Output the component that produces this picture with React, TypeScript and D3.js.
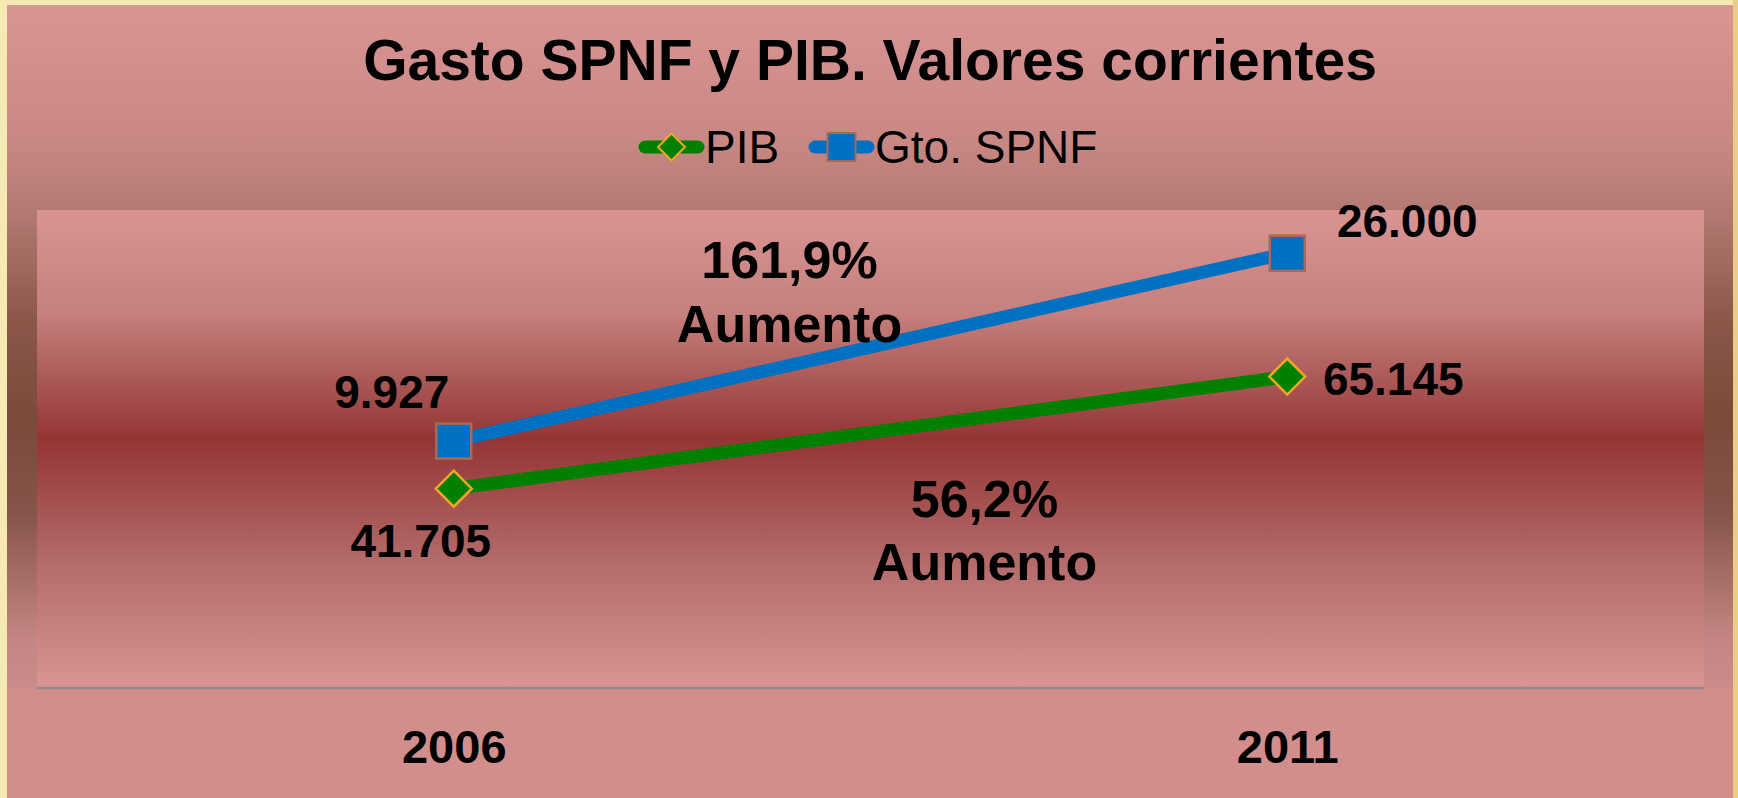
import * as d3 from 'd3';
import React, { useEffect, useRef } from 'react';

// chart data
const years: string[] = ['2006', '2011'];
const pibValues: number[] = [41705, 65145];
const gastoValues: number[] = [9927, 26000];
const seriesNames: string[] = ['PIB', 'Gto. SPNF'];
const titleText = 'Gasto SPNF y PIB. Valores corrientes';
const increaseWord = 'Aumento';

const WIDTH = 1738;
const HEIGHT = 798;

const esLocale = d3.formatLocale({
    decimal: ',',
    thousands: '.',
    grouping: [ 3 ],
    currency: [ '', '' ]
});
const fmtValue = esLocale.format(',');
const fmtPct = esLocale.format(',.1f');

/**
 * Line chart with two series on separate (hidden) axes.
 */
export default function App() {
    const ref = useRef<SVGSVGElement>(null);

    useEffect(() => {
        document.body.style.margin = '0';
        document.body.style.background = '#F4E6A8';
        drawChart(ref.current as SVGSVGElement);
    }, []);

    return (
        <svg ref={ref} width={WIDTH} height={HEIGHT} style={{ display: 'block' }} />
    );
}

function drawChart(node: SVGSVGElement) {
    const svg = d3.select(node);

    svg.selectAll('*').remove();

    const dims = {
        outerLeft: 7,
        outerRight: 1733,
        outerTop: 5,
        plotLeft: 37,
        plotRight: 1704,
        plotTop: 210,
        plotBottom: 688
    };
    const font = '"Liberation Sans", Arial, sans-serif';
    const center = (dims.outerLeft + dims.outerRight) / 2;

    const defs = svg.append('defs');

    const outerGrad = defs.append('linearGradient')
        .attr('id', 'outerGrad')
        .attr('x1', 0).attr('y1', 0).attr('x2', 0).attr('y2', 1);

    [
        [ 0, '#DA9494' ],
        [ 0.17, '#C98884' ],
        [ 0.27, '#B07870' ],
        [ 0.4, '#8A5749' ],
        [ 0.52, '#7A4A3A' ],
        [ 0.64, '#85544A' ],
        [ 0.8, '#C48684' ],
        [ 1, '#DA9696' ]
    ].forEach(([ o, c ]) => {
        outerGrad.append('stop').attr('offset', o).attr('stop-color', c);
    });

    const plotGrad = defs.append('linearGradient')
        .attr('id', 'plotGrad')
        .attr('x1', 0).attr('y1', 0).attr('x2', 0).attr('y2', 1);

    [
        [ 0, '#DA9494' ],
        [ 0.22, '#C57F7C' ],
        [ 0.48, '#933535' ],
        [ 0.75, '#B56E6D' ],
        [ 1, '#D99494' ]
    ].forEach(([ o, c ]) => {
        plotGrad.append('stop').attr('offset', o).attr('stop-color', c);
    });

    // frame
    svg.append('rect')
        .attr('width', WIDTH)
        .attr('height', HEIGHT)
        .attr('fill', '#F6EAB2');
    svg.append('rect')
        .attr('x', dims.outerRight)
        .attr('width', WIDTH - dims.outerRight)
        .attr('height', HEIGHT)
        .attr('fill', '#E9CC86');
    svg.append('rect')
        .attr('x', dims.outerLeft)
        .attr('y', dims.outerTop)
        .attr('width', dims.outerRight - dims.outerLeft)
        .attr('height', HEIGHT - dims.outerTop)
        .attr('fill', 'url(#outerGrad)');

    // below the plot the background is plain pink
    svg.append('rect')
        .attr('x', dims.outerLeft)
        .attr('y', dims.plotBottom)
        .attr('width', dims.outerRight - dims.outerLeft)
        .attr('height', HEIGHT - dims.plotBottom)
        .attr('fill', '#D28E8C');

    svg.append('rect')
        .attr('x', dims.plotLeft)
        .attr('y', dims.plotTop)
        .attr('width', dims.plotRight - dims.plotLeft)
        .attr('height', dims.plotBottom - dims.plotTop)
        .attr('fill', 'url(#plotGrad)');

    const x = d3.scalePoint<string>()
        .domain(years)
        .range([ dims.plotLeft, dims.plotRight ])
        .padding(0.5);
    const yPib = d3.scaleLinear()
        .domain([ 0, 100000 ])
        .range([ dims.plotBottom, dims.plotTop ]);
    const yGasto = d3.scaleLinear()
        .domain([ -11200, 29700 ])
        .range([ dims.plotBottom, dims.plotTop ]);

    // category axis
    const xAxis = svg.append('g')
        .attr('transform', `translate(0, ${dims.plotBottom})`)
        .call(d3.axisBottom(x).tickSize(0).tickPadding(75));

    xAxis.select('.domain')
        .attr('d', `M${dims.plotLeft},0H${dims.plotRight}`)
        .attr('stroke', '#8C8C8C')
        .attr('stroke-width', 2.5);
    xAxis.selectAll('text')
        .attr('dy', 0)
        .attr('font-family', font)
        .attr('font-weight', 'bold')
        .attr('font-size', 47)
        .attr('fill', '#000');

    const pibData = years.map((yr, i) => ({ year: yr, value: pibValues[i] }));
    const gastoData = years.map((yr, i) => ({ year: yr, value: gastoValues[i] }));

    const pibLine = d3.line<{ year: string; value: number }>()
        .x(d => x(d.year) as number)
        .y(d => yPib(d.value));
    const gastoLine = d3.line<{ year: string; value: number }>()
        .x(d => x(d.year) as number)
        .y(d => yGasto(d.value));

    svg.append('path')
        .datum(gastoData)
        .attr('d', gastoLine)
        .attr('fill', 'none')
        .attr('stroke', '#0070C0')
        .attr('stroke-width', 13);
    svg.append('path')
        .datum(pibData)
        .attr('d', pibLine)
        .attr('fill', 'none')
        .attr('stroke', '#008000')
        .attr('stroke-width', 13);

    const diamond = (s: number) => `M0,${-s}L${s},0L0,${s}L${-s},0Z`;

    svg.append('g')
        .selectAll('rect')
        .data(gastoData)
        .enter()
        .append('rect')
        .attr('x', d => (x(d.year) as number) - 17.5)
        .attr('y', d => yGasto(d.value) - 17.5)
        .attr('width', 35)
        .attr('height', 35)
        .attr('fill', '#0070C0')
        .attr('stroke', '#A86A58')
        .attr('stroke-width', 2.5);

    svg.append('g')
        .selectAll('path')
        .data(pibData)
        .enter()
        .append('path')
        .attr('transform', d => `translate(${x(d.year)}, ${yPib(d.value)})`)
        .attr('d', diamond(18))
        .attr('fill', '#008000')
        .attr('stroke', '#F2A526')
        .attr('stroke-width', 2.5);

    // data labels, offsets from each point
    const gastoOffsets = [ [ -62, -33 ], [ 120, -16 ] ];
    const pibOffsets = [ [ -33, 68 ], [ 106, 18 ] ];

    const labels = svg.append('g')
        .attr('font-family', font)
        .attr('font-weight', 'bold')
        .attr('font-size', 46)
        .attr('text-anchor', 'middle');

    labels.selectAll('text.gasto')
        .data(gastoData)
        .enter()
        .append('text')
        .attr('class', 'gasto')
        .attr('x', (d, i) => (x(d.year) as number) + gastoOffsets[i][0])
        .attr('y', (d, i) => yGasto(d.value) + gastoOffsets[i][1])
        .text(d => fmtValue(d.value));
    labels.selectAll('text.pib')
        .data(pibData)
        .enter()
        .append('text')
        .attr('class', 'pib')
        .attr('x', (d, i) => (x(d.year) as number) + pibOffsets[i][0])
        .attr('y', (d, i) => yPib(d.value) + pibOffsets[i][1])
        .text(d => fmtValue(d.value));

    // growth annotations
    const midX = ((x(years[0]) as number) + (x(years[1]) as number)) / 2;
    const gastoPct = (gastoValues[1] / gastoValues[0] - 1) * 100;
    const pibPct = (pibValues[1] / pibValues[0] - 1) * 100;
    const gastoMidY = (yGasto(gastoValues[0]) + yGasto(gastoValues[1])) / 2;
    const pibMidY = (yPib(pibValues[0]) + yPib(pibValues[1])) / 2;

    const notes = svg.append('g')
        .attr('font-family', font)
        .attr('font-weight', 'bold')
        .attr('font-size', 52)
        .attr('text-anchor', 'middle');

    notes.append('text')
        .attr('x', midX - 81)
        .attr('y', gastoMidY - 69)
        .text(`${fmtPct(gastoPct)}%`);
    notes.append('text')
        .attr('x', midX - 81)
        .attr('y', gastoMidY - 5)
        .text(increaseWord);
    notes.append('text')
        .attr('x', midX + 114)
        .attr('y', pibMidY + 84)
        .text(`${fmtPct(pibPct)}%`);
    notes.append('text')
        .attr('x', midX + 114)
        .attr('y', pibMidY + 147)
        .text(increaseWord);

    // title
    svg.append('text')
        .attr('x', center)
        .attr('y', 80)
        .attr('text-anchor', 'middle')
        .attr('font-family', font)
        .attr('font-weight', 'bold')
        .attr('font-size', 57)
        .text(titleText);

    // legend
    const legend = svg.append('g')
        .attr('font-family', font)
        .attr('font-size', 46);
    const legendY = 147;
    const legendItems = [
        { name: seriesNames[0], x0: 639, color: '#008000' },
        { name: seriesNames[1], x0: 809, color: '#0070C0' }
    ];

    legendItems.forEach((item, i) => {
        const g = legend.append('g').attr('transform', `translate(${item.x0}, ${legendY})`);

        g.append('line')
            .attr('x1', 6)
            .attr('x2', 59)
            .attr('stroke', item.color)
            .attr('stroke-width', 13)
            .attr('stroke-linecap', 'round');
        if (i === 0) {
            g.append('path')
                .attr('transform', 'translate(32.5, 0)')
                .attr('d', diamond(13.5))
                .attr('fill', item.color)
                .attr('stroke', '#F2A526')
                .attr('stroke-width', 2);
        } else {
            g.append('rect')
                .attr('x', 18.5)
                .attr('y', -14)
                .attr('width', 28)
                .attr('height', 28)
                .attr('fill', item.color)
                .attr('stroke', '#A86A58')
                .attr('stroke-width', 2);
        }
        g.append('text')
            .attr('x', 66)
            .attr('y', 16)
            .text(item.name);
    });
}
